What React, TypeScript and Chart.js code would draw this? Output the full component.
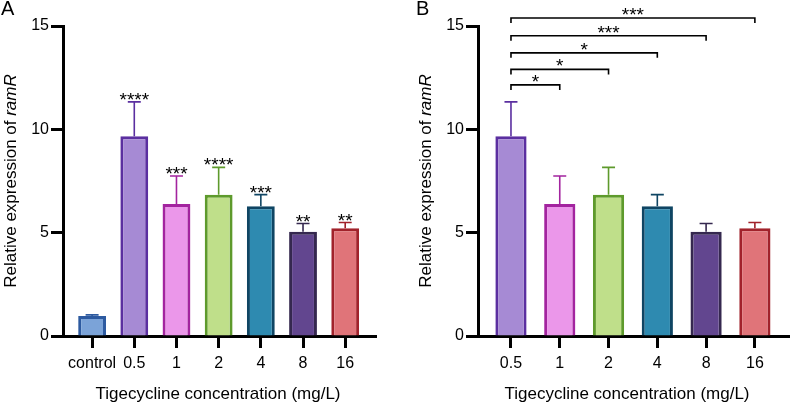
import React, { useEffect, useRef } from 'react';
import { Chart, registerables } from 'chart.js';

Chart.register(...registerables);

// Panel A: every group, including the untreated control
const groupsA = ['control', '0.5', '1', '2', '4', '8', '16'];
const meanA = [0.97, 9.66, 6.39, 6.83, 6.28, 5.05, 5.21];
const errTopA = [1.02, 11.33, 7.74, 8.16, 6.84, 5.44, 5.49];
const sigA = ['', '****', '***', '****', '***', '**', '**'];

// Panel B: tigecycline-treated groups only
const groupsB = ['0.5', '1', '2', '4', '8', '16'];
const meanB = [9.66, 6.39, 6.83, 6.28, 5.05, 5.21];
const errTopB = [11.33, 7.74, 8.16, 6.84, 5.44, 5.49];

// Pairwise comparisons of 0.5 mg/L against the higher concentrations
const compareFrom = ['0.5', '0.5', '0.5', '0.5', '0.5'];
const compareTo = ['1', '2', '4', '8', '16'];
const compareLevel = [12.15, 12.9, 13.7, 14.53, 15.39];
const compareSig = ['*', '*', '*', '***', '***'];

const yTicks = [0, 5, 10, 15];

// fill / outline colour of each group
const palette: Record<string, [string, string]> = {
  control: ['#7ba3d8', '#2d5aa0'],
  '0.5': ['#a68ad4', '#5b2fa0'],
  '1': ['#eb97ea', '#a3249f'],
  '2': ['#bfdf8a', '#5e9a2c'],
  '4': ['#2e8ab0', '#0f4563'],
  '8': ['#62468f', '#35284f'],
  '16': ['#e07479', '#a1222b'],
};

const FONT = "'Liberation Sans', Arial, Helvetica, sans-serif";

interface Bracket {
  from: string;
  to: string;
  level: number;
  label: string;
}

interface PanelSpec {
  letter: string;
  groups: string[];
  mean: number[];
  errTop: number[];
  sig?: string[];
  brackets?: Bracket[];
  axisLeft: number;
  padRight: number;
  xMin: number;
  xMax: number;
  barPct: number;
  yTitleX: number;
  xTitleCenter: number;
  letterX: number;
  letterY: number;
}

const bracketsB: Bracket[] = compareTo.map((to, i) => ({
  from: compareFrom[i],
  to,
  level: compareLevel[i],
  label: compareSig[i],
}));

function overlayPlugin(spec: PanelSpec) {
  return {
    id: 'overlay' + spec.letter,
    afterDatasetsDraw(chart: any) {
      const { ctx } = chart;
      const x = chart.scales.x;
      const y = chart.scales.y;
      ctx.save();
      // upper error whiskers and significance marks
      spec.groups.forEach((g, i) => {
        const px = x.getPixelForValue(i);
        const yb = y.getPixelForValue(spec.mean[i]);
        const ye = y.getPixelForValue(spec.errTop[i]);
        ctx.strokeStyle = palette[g][1];
        ctx.lineWidth = 1.6;
        ctx.beginPath();
        ctx.moveTo(px, yb);
        ctx.lineTo(px, ye);
        ctx.moveTo(px - 6.5, ye);
        ctx.lineTo(px + 6.5, ye);
        ctx.stroke();
        if (spec.sig && spec.sig[i]) {
          ctx.fillStyle = '#000';
          ctx.font = `19px ${FONT}`;
          ctx.textAlign = 'center';
          ctx.textBaseline = 'alphabetic';
          ctx.fillText(spec.sig[i], px, ye + 4);
        }
      });
      // comparison brackets
      (spec.brackets || []).forEach((b) => {
        const x1 = x.getPixelForValue(spec.groups.indexOf(b.from));
        const x2 = x.getPixelForValue(spec.groups.indexOf(b.to));
        const yy = y.getPixelForValue(b.level);
        ctx.strokeStyle = '#000';
        ctx.lineWidth = 1.6;
        ctx.beginPath();
        ctx.moveTo(x1, yy + 5);
        ctx.lineTo(x1, yy);
        ctx.lineTo(x2, yy);
        ctx.lineTo(x2, yy + 5);
        ctx.stroke();
        ctx.fillStyle = '#000';
        ctx.font = `19px ${FONT}`;
        ctx.textAlign = 'center';
        ctx.textBaseline = 'alphabetic';
        ctx.fillText(b.label, (x1 + x2) / 2, yy + 3);
      });
      ctx.restore();
    },
    afterDraw(chart: any) {
      const { ctx, chartArea } = chart;
      ctx.save();
      ctx.fillStyle = '#000';
      // panel letter
      ctx.font = `20px ${FONT}`;
      ctx.textAlign = 'left';
      ctx.textBaseline = 'alphabetic';
      ctx.fillText(spec.letter, spec.letterX, spec.letterY);
      // x-axis title
      ctx.font = `17px ${FONT}`;
      ctx.textAlign = 'center';
      ctx.fillText('Tigecycline concentration (mg/L)', spec.xTitleCenter, 399);
      // y-axis title with italic gene name
      const plain = 'Relative expression of ';
      const gene = 'ramR';
      ctx.font = `17px ${FONT}`;
      const w1 = ctx.measureText(plain).width;
      ctx.font = `italic 17px ${FONT}`;
      const w2 = ctx.measureText(gene).width;
      const cy = (chartArea.top + chartArea.bottom) / 2;
      ctx.translate(spec.yTitleX, cy);
      ctx.rotate(-Math.PI / 2);
      ctx.textAlign = 'left';
      const start = -(w1 + w2) / 2;
      ctx.font = `17px ${FONT}`;
      ctx.fillText(plain, start, 0);
      ctx.font = `italic 17px ${FONT}`;
      ctx.fillText(gene, start + w1, 0);
      ctx.restore();
    },
  };
}

function makeConfig(spec: PanelSpec, height: number): any {
  return {
    type: 'bar',
    data: {
      datasets: [
        {
          data: spec.groups.map((g, i) => ({ x: i, y: spec.mean[i] })),
          backgroundColor: spec.groups.map((g) => palette[g][0]),
          borderColor: spec.groups.map((g) => palette[g][1]),
          borderWidth: 3,
          borderSkipped: 'start',
          barPercentage: spec.barPct,
          categoryPercentage: 1,
        },
      ],
    },
    options: {
      animation: false,
      responsive: false,
      maintainAspectRatio: false,
      events: [],
      layout: { padding: { left: 0, right: spec.padRight, top: 26, bottom: 0 } },
      plugins: { legend: { display: false }, tooltip: { enabled: false } },
      scales: {
        x: {
          type: 'linear',
          offset: false,
          z: 1,
          min: spec.xMin,
          max: spec.xMax,
          afterBuildTicks: (s: any) => {
            s.ticks = spec.groups.map((_, i) => ({ value: i }));
          },
          afterFit: (s: any) => {
            s.height = height - 336;
          },
          ticks: {
            callback: (_v: any, i: number) => spec.groups[i],
            autoSkip: false,
            maxRotation: 0,
            color: '#000',
            padding: 6,
            font: { family: FONT, size: 16 },
          },
          grid: {
            display: true,
            offset: false,
            drawOnChartArea: false,
            drawTicks: true,
            tickLength: 12,
            tickWidth: 3,
            tickColor: '#000',
          },
          border: { display: true, color: '#000', width: 3 },
        },
        y: {
          min: 0,
          max: 15,
          z: 1,
          afterBuildTicks: (s: any) => {
            s.ticks = yTicks.map((v) => ({ value: v }));
          },
          afterFit: (s: any) => {
            s.width = spec.axisLeft;
          },
          ticks: {
            color: '#000',
            padding: 2,
            font: { family: FONT, size: 16 },
          },
          grid: {
            display: true,
            drawOnChartArea: false,
            drawTicks: true,
            tickLength: 12,
            tickWidth: 3,
            tickColor: '#000',
          },
          border: { display: true, color: '#000', width: 3 },
        },
      },
    },
    plugins: [overlayPlugin(spec)],
  };
}

const specA: PanelSpec = {
  letter: 'A',
  groups: groupsA,
  mean: meanA,
  errTop: errTopA,
  sig: sigA,
  axisLeft: 63,
  padRight: 24,
  xMin: -0.69,
  xMax: 6.73,
  barPct: 0.66,
  yTitleX: 15.5,
  xTitleCenter: 218,
  letterX: 1,
  letterY: 14.5,
};

const specB: PanelSpec = {
  letter: 'B',
  groups: groupsB,
  mean: meanB,
  errTop: errTopB,
  brackets: bracketsB,
  axisLeft: 78,
  padRight: 0,
  xMin: -0.676,
  xMax: 5.72,
  barPct: 0.64,
  yTitleX: 31,
  xTitleCenter: 227,
  letterX: 16,
  letterY: 15,
};

function Panel({ spec, left, width }: { spec: PanelSpec; left: number; width: number }) {
  const ref = useRef<HTMLCanvasElement | null>(null);
  useEffect(() => {
    if (!ref.current) return;
    const chart = new Chart(ref.current, makeConfig(spec, 404));
    return () => chart.destroy();
  }, [spec]);
  return (
    <canvas
      ref={ref}
      width={width}
      height={404}
      style={{ position: 'absolute', left, top: 0, width, height: 404 }}
    />
  );
}

export default function App() {
  return (
    <div style={{ position: 'fixed', left: 0, top: 0, width: 790, height: 404, background: '#fff' }}>
      <Panel spec={specA} left={0} width={400} />
      <Panel spec={specB} left={400} width={390} />
    </div>
  );
}
